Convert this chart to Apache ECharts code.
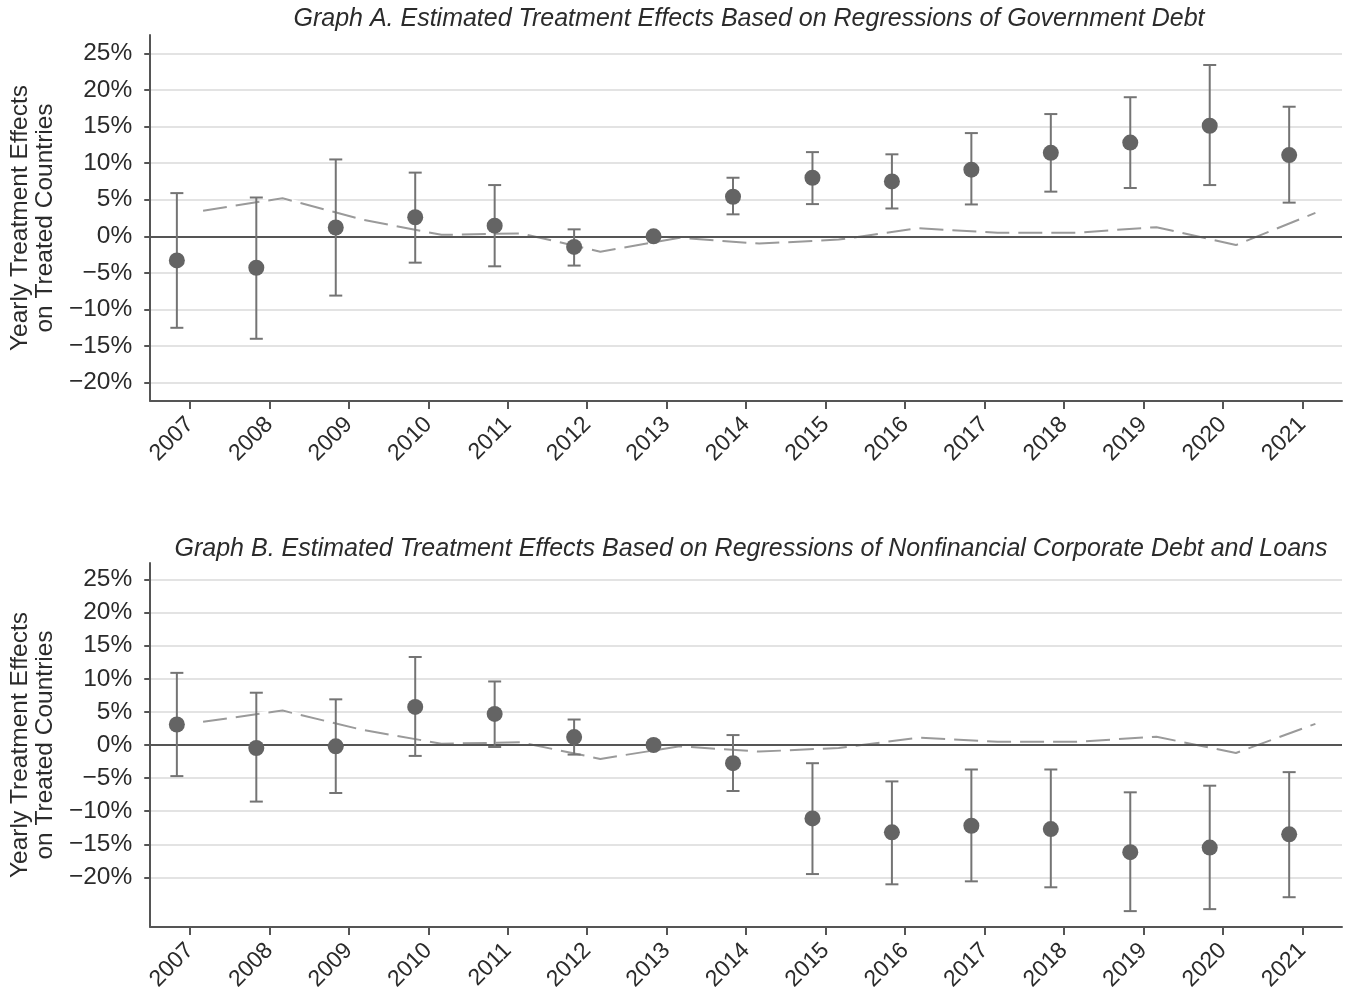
<!DOCTYPE html>
<html>
<head>
<meta charset="utf-8">
<script src="https://cdn.jsdelivr.net/npm/echarts@6/dist/echarts.min.js"></script>
<style>
html,body{margin:0;padding:0;background:#fff;}
#chart{width:1346px;height:1000px;}
</style>
</head>
<body>
<div id="chart"></div>
<script>
// ---------- data ----------
const years = ['2007','2008','2009','2010','2011','2012','2013','2014','2015','2016','2017','2018','2019','2020','2021'];
const yTicks = [-20,-15,-10,-5,0,5,10,15,20,25];

// Graph A: government debt
const govEst  = [-3.3,-4.3, 1.2, 2.6, 1.45,-1.45, 0, 5.4, 8.0, 7.5, 9.1,11.4,12.8,15.1,11.1];
const govLow  = [-12.5,-14.0,-8.1,-3.6,-4.1,-4.0, null, 3.0, 4.4, 3.8, 4.35, 6.1, 6.6, 7.0, 4.6];
const govHigh = [5.9, 5.3,10.5, 8.7, 7.0, 0.95, null, 8.0,11.5,11.2,14.1,16.7,19.0,23.4,17.7];

// Graph B: nonfinancial corporate debt and loans
const corpEst  = [3.1,-0.45,-0.2, 5.75, 4.7, 1.2, 0,-2.75,-11.1,-13.2,-12.2,-12.7,-16.2,-15.5,-13.5];
const corpLow  = [-4.7,-8.55,-7.25,-1.65,-0.3,-1.45, null,-6.95,-19.5,-21.05,-20.6,-21.5,-25.1,-24.8,-23.0];
const corpHigh = [10.9, 7.9, 6.9,13.3, 9.6, 3.85, null, 1.5,-2.75,-5.5,-3.7,-3.7,-7.15,-6.15,-4.1];

// dashed reference line (same in both graphs)
const refLine = [3.5, 5.2, 2.3, 0.2, 0.4,-2.1,-0.2,-1.0,-0.45, 1.1, 0.5, 0.5, 1.25,-1.2, 3.2];

// ---------- style ----------
const MARK_SHIFT = -0.165;   // markers drawn slightly left of tick
const LINE_SHIFT = 0.165;    // dashed line slightly right of tick
const FONT = '"Liberation Sans", Arial, Helvetica, sans-serif';
const AXIS_COL = '#555';
const TXT = '#2b2b2b';

function fmtPct(v){ return (v < 0 ? '\u2212' + Math.abs(v) : String(v)) + '%'; }

function renderErr(params, api){
  const x = api.value(0), est = api.value(1), lo = api.value(2), hi = api.value(3);
  const c = api.coord([x, est]);
  const children = [];
  const st = {stroke:'#747474', lineWidth:2};
  if (!isNaN(lo) && !isNaN(hi) && lo !== null && hi !== null){
    const pl = api.coord([x, lo]), ph = api.coord([x, hi]);
    const hw = 6.5;
    children.push({type:'line', shape:{x1:pl[0], y1:pl[1], x2:ph[0], y2:ph[1]}, style:st});
    children.push({type:'line', shape:{x1:pl[0]-hw, y1:pl[1], x2:pl[0]+hw, y2:pl[1]}, style:st});
    children.push({type:'line', shape:{x1:ph[0]-hw, y1:ph[1], x2:ph[0]+hw, y2:ph[1]}, style:st});
  }
  children.push({type:'circle', shape:{cx:c[0], cy:c[1], r:8}, style:{fill:'#646464'}});
  return {type:'group', children};
}

function buildGrid(idx, est, lo, hi){
  const xv = idx*2+1;
  const errData = years.map((y,i)=>[i+MARK_SHIFT, est[i], lo[i]==null?NaN:lo[i], hi[i]==null?NaN:hi[i]]);
  const refData = refLine.map((v,i)=>[i+LINE_SHIFT, v]);
  return [
    { // zero line
      type:'line', xAxisIndex:xv, yAxisIndex:idx, data:refData, z:1,
      showSymbol:false, silent:true, lineStyle:{opacity:0}, itemStyle:{opacity:0},
      markLine:{silent:true, symbol:'none', label:{show:false},
        lineStyle:{color:AXIS_COL, width:2, type:'solid'}, data:[{yAxis:0}]}
    },
    { // white underlay of dashed line
      type:'line', xAxisIndex:xv, yAxisIndex:idx, data:refData, z:3,
      showSymbol:false, silent:true, lineStyle:{color:'#fff', width:3}
    },
    { // dashed line
      type:'line', xAxisIndex:xv, yAxisIndex:idx, data:refData, z:4,
      showSymbol:false, silent:true, lineStyle:{color:'#9a9a9a', width:2, type:[24,9]}
    },
    { // estimates with error bars
      type:'custom', xAxisIndex:xv, yAxisIndex:idx, data:errData, z:10,
      encode:{x:0, y:1}, renderItem:renderErr, silent:true
    }
  ];
}

function catAxis(gi){
  return {
    type:'category', gridIndex:gi, data:years, boundaryGap:true,
    axisLine:{show:true, onZero:false, lineStyle:{color:AXIS_COL, width:2}},
    axisTick:{show:true, alignWithLabel:true, length:8, lineStyle:{color:AXIS_COL, width:2}},
    axisLabel:{rotate:45, fontSize:23, color:TXT, fontFamily:FONT, margin:20},
    splitLine:{show:false}
  };
}
function valXAxis(gi){
  return {type:'value', gridIndex:gi, min:-0.5, max:14.5, show:false};
}
function yAxis(gi, min, max){
  return {
    type:'value', gridIndex:gi, min:min, max:max,
    name:'Yearly Treatment Effects\non Treated Countries',
    nameLocation:'middle', nameRotate:90, nameGap:91,
    nameTextStyle:{fontSize:24.5, color:TXT, fontFamily:FONT, lineHeight:25},
    axisLine:{show:true, onZero:false, lineStyle:{color:AXIS_COL, width:2}},
    axisTick:{show:true, length:6, customValues:yTicks, lineStyle:{color:AXIS_COL, width:2}},
    axisLabel:{customValues:yTicks, formatter:fmtPct, fontSize:24.5, color:TXT, fontFamily:FONT, margin:18},
    splitLine:{show:true, lineStyle:{color:'#e3e3e3', width:2}}
  };
}

const chart = echarts.init(document.getElementById('chart'), null, {renderer:'canvas'});
chart.setOption({
  backgroundColor:'#fff',
  animation:false,
  title:[
    {text:'Graph A. Estimated Treatment Effects Based on Regressions of Government Debt',
     left:744, top:2, textAlign:'center',
     textStyle:{fontSize:25, fontStyle:'italic', fontWeight:'normal', color:TXT, fontFamily:FONT}},
    {text:'Graph B. Estimated Treatment Effects Based on Regressions of Nonfinancial Corporate Debt and Loans',
     left:746, top:532, textAlign:'center',
     textStyle:{fontSize:25, fontStyle:'italic', fontWeight:'normal', color:TXT, fontFamily:FONT}}
  ],
  grid:[
    {left:150, top:35, width:1192, height:366},
    {left:150, top:563, width:1192, height:364}
  ],
  xAxis:[catAxis(0), valXAxis(0), catAxis(1), valXAxis(1)],
  yAxis:[yAxis(0,-22.5,27.5), yAxis(1,-27.5,27.5)],
  series:[].concat(buildGrid(0, govEst, govLow, govHigh), buildGrid(1, corpEst, corpLow, corpHigh))
});
</script>
</body>
</html>
